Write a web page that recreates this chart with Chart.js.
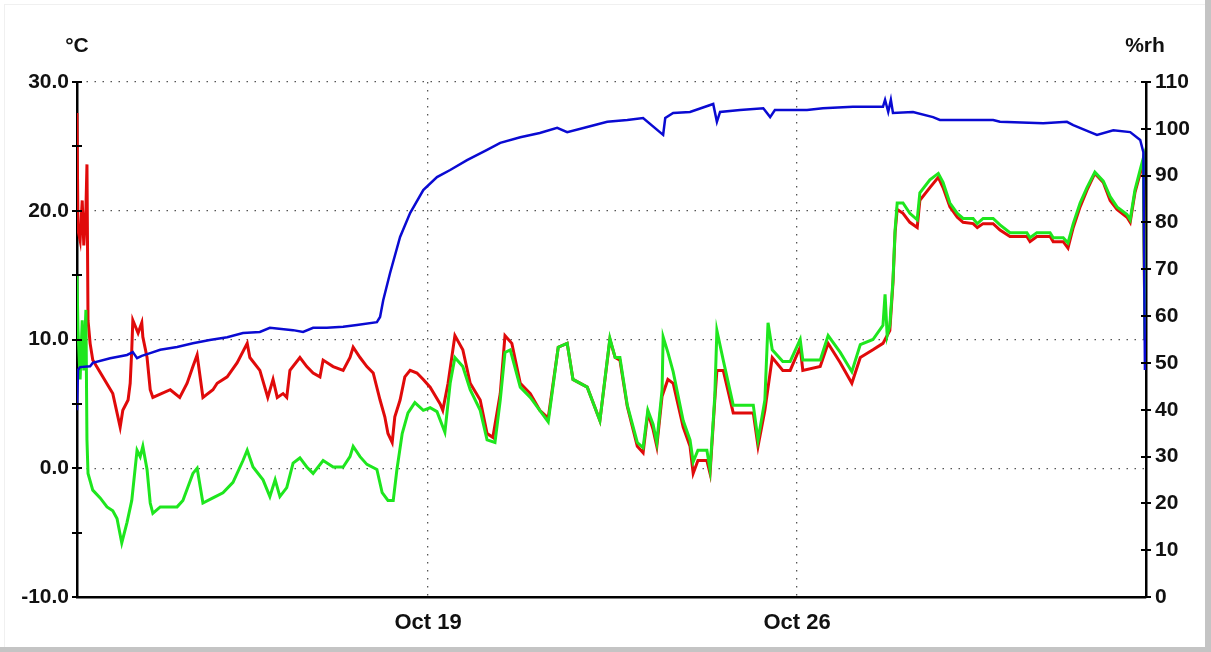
<!DOCTYPE html>
<html>
<head>
<meta charset="utf-8">
<script src="https://cdn.jsdelivr.net/npm/chart.js@4.4.1/dist/chart.umd.min.js"></script>
<style>
  html, body { margin: 0; padding: 0; background: #fff; }
  #wrap { width: 1211px; height: 652px; }
</style>
</head>
<body>
<div id="wrap"><canvas id="logChart" width="1211" height="652"></canvas></div>
<script>
// x values are days counted from Oct 12 00:00
const xTickDays = [7, 14]
const xTickLabels = ['Oct 19', 'Oct 26']
const unitLabels = ['°C', '%rh']

// temperature (°C, left axis)
const tempSeries = [
  [0.34, 27.6], [0.36, 18.5], [0.40, 17.7], [0.44, 20.8], [0.47, 17.3], [0.51, 20.1], [0.53, 23.6], [0.55, 11.5],
  [0.59, 9.7], [0.64, 8.4], [0.83, 7.1], [1.02, 5.8], [1.16, 3.2], [1.21, 4.5], [1.31, 5.3], [1.35, 6.6],
  [1.38, 9.2], [1.40, 11.5], [1.50, 10.5], [1.57, 11.3], [1.59, 10.2], [1.67, 8.6], [1.73, 6.1], [1.78, 5.5],
  [2.11, 6.1], [2.29, 5.5], [2.43, 6.6], [2.54, 7.9], [2.62, 8.8], [2.73, 5.5], [2.92, 6.1], [3.00, 6.6],
  [3.19, 7.1], [3.38, 8.2], [3.57, 9.7], [3.62, 8.6], [3.81, 7.6], [3.96, 5.5], [4.06, 6.9], [4.14, 5.5],
  [4.25, 5.8], [4.32, 5.5], [4.38, 7.6], [4.57, 8.6], [4.70, 7.9], [4.82, 7.4], [4.95, 7.1], [5.01, 8.4],
  [5.20, 7.9], [5.39, 7.6], [5.52, 8.6], [5.58, 9.4], [5.71, 8.6], [5.84, 7.9], [5.96, 7.4], [6.09, 5.3],
  [6.18, 4.0], [6.24, 2.7], [6.32, 2.0], [6.37, 4.0], [6.47, 5.3], [6.56, 7.1], [6.66, 7.6], [6.79, 7.4],
  [6.91, 6.9], [7.04, 6.3], [7.23, 5.0], [7.28, 4.5], [7.38, 6.6], [7.51, 10.3], [7.66, 9.2], [7.80, 6.6],
  [7.99, 5.3], [8.12, 2.7], [8.23, 2.4], [8.37, 5.8], [8.46, 10.3], [8.59, 9.7], [8.75, 6.6], [8.94, 5.8],
  [9.12, 4.5], [9.28, 3.9], [9.47, 9.4], [9.64, 9.7], [9.75, 6.9], [10.02, 6.3], [10.26, 3.7], [10.45, 10.0],
  [10.55, 8.6], [10.64, 8.4], [10.78, 4.8], [10.97, 1.7], [11.08, 1.2], [11.17, 4.3], [11.27, 3.0], [11.34, 1.7],
  [11.44, 5.6], [11.55, 6.9], [11.65, 6.6], [11.84, 3.2], [11.97, 1.7], [12.03, -0.4], [12.12, 0.6], [12.29, 0.6],
  [12.35, -0.4], [12.44, 5.3], [12.48, 7.6], [12.60, 7.6], [12.79, 4.3], [13.17, 4.3], [13.26, 1.7], [13.39, 4.5],
  [13.53, 8.6], [13.73, 7.6], [13.87, 7.6], [14.06, 9.4], [14.11, 7.6], [14.44, 7.9], [14.59, 9.7], [14.82, 8.2],
  [15.04, 6.6], [15.20, 8.6], [15.44, 9.2], [15.63, 9.7], [15.76, 10.7], [15.82, 14.4], [15.86, 18.3], [15.90, 20.1],
  [16.01, 19.8], [16.14, 19.1], [16.28, 18.7], [16.33, 20.8], [16.52, 21.8], [16.68, 22.6], [16.77, 21.8], [16.90, 20.3],
  [17.04, 19.5], [17.15, 19.1], [17.34, 19.0], [17.42, 18.7], [17.53, 19.0], [17.72, 19.0], [17.85, 18.5], [18.04, 18.0],
  [18.36, 18.0], [18.42, 17.6], [18.55, 18.0], [18.80, 18.0], [18.86, 17.6], [19.05, 17.6], [19.14, 17.1], [19.24, 18.7],
  [19.37, 20.3], [19.50, 21.6], [19.65, 22.9], [19.81, 22.2], [19.94, 20.8], [20.07, 20.1], [20.26, 19.5], [20.32, 19.1],
  [20.41, 21.4], [20.51, 22.9], [20.57, 23.9], [20.60, 10.0]
]

// dew point (°C, left axis)
const dewSeries = [
  [0.34, 15.0], [0.36, 10.7], [0.40, 6.9], [0.44, 11.5], [0.47, 7.6], [0.51, 12.3], [0.53, 2.2], [0.55, -0.4],
  [0.64, -1.7], [0.78, -2.3], [0.91, -3.0], [1.02, -3.3], [1.10, -3.9], [1.19, -5.8], [1.29, -4.2], [1.38, -2.5],
  [1.48, 1.4], [1.54, 0.9], [1.59, 1.7], [1.67, -0.1], [1.73, -2.7], [1.78, -3.5], [1.92, -3.0], [2.24, -3.0],
  [2.35, -2.5], [2.54, -0.4], [2.62, 0.0], [2.73, -2.7], [2.92, -2.3], [3.11, -1.9], [3.30, -1.1], [3.49, 0.6],
  [3.57, 1.4], [3.68, 0.1], [3.87, -0.9], [4.00, -2.2], [4.10, -0.9], [4.19, -2.2], [4.32, -1.5], [4.44, 0.4],
  [4.57, 0.8], [4.70, 0.1], [4.82, -0.4], [5.01, 0.6], [5.20, 0.1], [5.39, 0.1], [5.52, 0.9], [5.58, 1.7],
  [5.71, 0.9], [5.84, 0.3], [6.03, -0.1], [6.13, -1.9], [6.24, -2.5], [6.34, -2.5], [6.41, -0.1], [6.51, 2.7],
  [6.62, 4.3], [6.75, 5.1], [6.91, 4.5], [7.04, 4.7], [7.17, 4.4], [7.32, 2.8], [7.42, 6.6], [7.51, 8.6],
  [7.66, 7.9], [7.80, 6.1], [7.99, 4.5], [8.12, 2.2], [8.27, 2.0], [8.37, 5.3], [8.46, 9.0], [8.56, 9.2],
  [8.75, 6.3], [8.94, 5.5], [9.12, 4.5], [9.28, 3.6], [9.47, 9.4], [9.64, 9.7], [9.75, 6.9], [10.02, 6.3],
  [10.26, 3.7], [10.45, 10.1], [10.55, 8.6], [10.64, 8.6], [10.78, 4.9], [10.97, 2.0], [11.08, 1.6], [11.17, 4.5],
  [11.27, 3.4], [11.34, 2.0], [11.44, 6.1], [11.46, 10.2], [11.55, 9.0], [11.65, 7.5], [11.84, 3.7], [11.97, 2.2],
  [12.03, 0.5], [12.12, 1.4], [12.29, 1.4], [12.35, -0.1], [12.44, 5.6], [12.48, 10.7], [12.60, 8.4], [12.79, 4.9],
  [13.17, 4.9], [13.26, 2.2], [13.39, 5.3], [13.45, 11.3], [13.53, 9.2], [13.73, 8.3], [13.87, 8.3], [14.06, 10.0],
  [14.11, 8.4], [14.44, 8.4], [14.59, 10.3], [14.82, 9.0], [15.04, 7.5], [15.20, 9.6], [15.44, 10.0], [15.63, 11.1],
  [15.67, 13.5], [15.71, 10.3], [15.76, 11.1], [15.82, 14.6], [15.86, 18.5], [15.90, 20.6], [16.01, 20.6], [16.14, 19.8],
  [16.28, 19.3], [16.33, 21.4], [16.52, 22.4], [16.68, 22.9], [16.77, 22.2], [16.90, 20.6], [17.04, 19.8], [17.15, 19.4],
  [17.34, 19.4], [17.42, 19.0], [17.53, 19.4], [17.72, 19.4], [17.85, 18.9], [18.04, 18.3], [18.36, 18.3], [18.42, 17.9],
  [18.55, 18.3], [18.80, 18.3], [18.86, 17.9], [19.05, 17.9], [19.14, 17.5], [19.24, 19.0], [19.37, 20.6], [19.50, 21.8],
  [19.65, 23.0], [19.81, 22.3], [19.94, 21.1], [20.07, 20.3], [20.26, 19.7], [20.32, 19.3], [20.41, 21.6], [20.51, 23.2],
  [20.57, 24.1], [20.60, 10.0]
]

// relative humidity (%rh, right axis)
const rhSeries = [
  [0.34, 39.9], [0.36, 48.5], [0.40, 49.1], [0.59, 49.3], [0.64, 50.0], [0.97, 51.0], [1.29, 51.7], [1.40, 52.3],
  [1.48, 51.0], [1.57, 51.5], [1.73, 52.1], [1.92, 52.8], [2.24, 53.4], [2.54, 54.2], [2.86, 54.9], [3.19, 55.5],
  [3.49, 56.4], [3.81, 56.6], [4.00, 57.5], [4.44, 57.0], [4.63, 56.6], [4.82, 57.5], [5.08, 57.5], [5.39, 57.7],
  [5.65, 58.1], [6.03, 58.7], [6.09, 59.8], [6.15, 63.4], [6.28, 69.2], [6.47, 76.9], [6.66, 82.0], [6.91, 86.9],
  [7.17, 89.7], [7.42, 91.2], [7.74, 93.3], [8.12, 95.5], [8.37, 97.0], [8.75, 98.2], [9.12, 99.1], [9.45, 100.2],
  [9.64, 99.3], [10.02, 100.4], [10.40, 101.5], [10.78, 101.9], [11.08, 102.3], [11.46, 98.7], [11.50, 102.3], [11.65, 103.4],
  [11.97, 103.6], [12.41, 105.3], [12.48, 101.5], [12.54, 103.6], [12.92, 104.0], [13.36, 104.4], [13.49, 102.5], [13.58, 104.0],
  [13.87, 104.0], [14.19, 104.0], [14.49, 104.4], [15.06, 104.7], [15.63, 104.7], [15.67, 106.2], [15.73, 103.6], [15.78, 106.2],
  [15.82, 103.4], [16.20, 103.6], [16.58, 102.5], [16.71, 101.9], [17.72, 101.9], [17.85, 101.5], [18.67, 101.2], [19.12, 101.5],
  [19.24, 100.8], [19.56, 99.3], [19.69, 98.7], [20.00, 99.7], [20.32, 99.3], [20.51, 97.6], [20.57, 95.0], [20.60, 48.5]
]

const toPoints = s => s.map(p => ({ x: p[0], y: p[1] }))
const family = "'Liberation Sans', Arial, sans-serif"
const yFont = { family, size: 21, weight: 'bold' }
const xFont = { family, size: 22, weight: 'bold' }

const frame = {
  id: 'frame',
  beforeDraw(chart) {
    const { ctx, width, height } = chart
    ctx.save()
    ctx.fillStyle = '#fff'
    ctx.fillRect(0, 0, width, height)
    ctx.fillStyle = '#c4c4c4'
    ctx.fillRect(width - 6, 0, 6, height)
    ctx.fillRect(0, height - 5, width, 5)
    ctx.fillStyle = '#f0f0f0'
    ctx.fillRect(4, 4, width - 10, 1)
    ctx.fillRect(4, 4, 1, height - 9)
    ctx.restore()
  }
}

// small tick marks that cross both value axes
const crossTicks = {
  id: 'crossTicks',
  afterDatasetsDraw(chart) {
    const { ctx, chartArea } = chart
    ctx.save()
    ctx.strokeStyle = '#000'
    ctx.lineWidth = 2
    ;['y', 'y1'].forEach(id => {
      const s = chart.scales[id]
      const x = id === 'y' ? chartArea.left : chartArea.right
      s.ticks.forEach(t => {
        const py = Math.round(s.getPixelForValue(t.value))
        ctx.beginPath()
        ctx.moveTo(x - 5, py)
        ctx.lineTo(x + 5, py)
        ctx.stroke()
      })
    })
    ctx.restore()
  }
}

const axisUnits = {
  id: 'axisUnits',
  afterDraw(chart) {
    const { ctx, chartArea } = chart
    ctx.save()
    ctx.font = 'bold 21px ' + family
    ctx.fillStyle = '#111'
    ctx.textAlign = 'center'
    ctx.textBaseline = 'middle'
    ctx.fillText(unitLabels[0], chartArea.left, chartArea.top - 36)
    ctx.fillText(unitLabels[1], chartArea.right - 1, chartArea.top - 36)
    ctx.restore()
  }
}

new Chart(document.getElementById('logChart'), {
  type: 'line',
  data: {
    datasets: [
      { label: 'Humidity', data: toPoints(rhSeries), yAxisID: 'y1', borderColor: '#0a0ad2', borderWidth: 2.5 },
      { label: 'Dew point', data: toPoints(dewSeries), yAxisID: 'y', borderColor: '#1ee61e', borderWidth: 3 },
      { label: 'Temperature', data: toPoints(tempSeries), yAxisID: 'y', borderColor: '#e00a0a', borderWidth: 3 }
    ]
  },
  options: {
    responsive: false,
    animation: false,
    layout: { padding: { top: 82, left: 0, right: 0, bottom: 0 } },
    elements: { point: { radius: 0 }, line: { tension: 0 } },
    plugins: { legend: { display: false }, tooltip: { enabled: false } },
    scales: {
      x: {
        type: 'linear',
        min: 0.341,
        max: 20.62,
        afterBuildTicks: s => { s.ticks = xTickDays.map(v => ({ value: v })) },
        afterFit: s => { s.height = 55 },
        ticks: {
          font: xFont,
          color: '#111',
          padding: 13,
          maxRotation: 0,
          callback: v => xTickLabels[xTickDays.indexOf(v)]
        },
        grid: { color: '#555', lineWidth: 1.3, drawTicks: false },
        border: { color: '#000', width: 2.5, dash: [1.5, 6.5] }
      },
      y: {
        position: 'left',
        min: -10,
        max: 30,
        afterFit: s => { s.width = 77 },
        ticks: {
          stepSize: 5,
          font: yFont,
          color: '#111',
          padding: 8,
          callback: v => (v % 10 === 0 ? v.toFixed(1) : '')
        },
        grid: {
          drawTicks: false,
          lineWidth: 1.3,
          color: c => (c.tick && c.tick.value % 10 === 0 && c.tick.value > -10 ? '#555' : 'rgba(0,0,0,0)')
        },
        border: { color: '#000', width: 2.5, dash: [1.5, 6.5] }
      },
      y1: {
        position: 'right',
        min: 0,
        max: 110,
        afterFit: s => { s.width = 65 },
        ticks: {
          stepSize: 5,
          font: yFont,
          color: '#111',
          padding: 9,
          callback: v => (v % 10 === 0 ? String(v) : '')
        },
        grid: { drawOnChartArea: false, drawTicks: false },
        border: { color: '#000', width: 2.5 }
      }
    }
  },
  plugins: [frame, crossTicks, axisUnits]
})
</script>
</body>
</html>
